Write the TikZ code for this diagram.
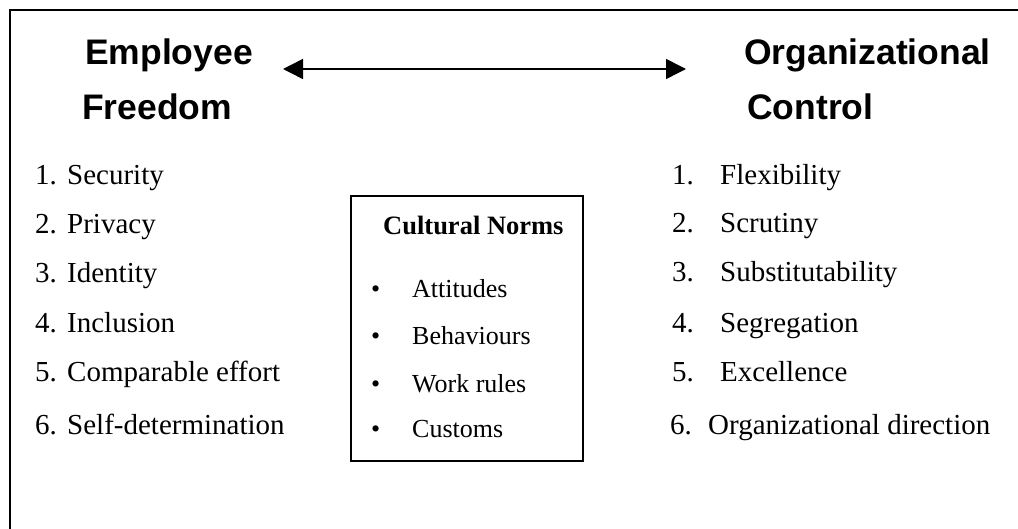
\documentclass[tikz,border=0pt]{standalone}
\usepackage{fontspec}
\setmainfont{Liberation Serif}
\newfontfamily\headfont{Liberation Sans}
\usetikzlibrary{arrows.meta}

\begin{document}
\begin{tikzpicture}[x=1pt,y=-1pt,
  head/.style={font=\headfont\bfseries\fontsize{35.5}{40}\selectfont, anchor=base west, inner sep=0},
  item/.style={font=\fontsize{29}{34}\selectfont, anchor=base west, inner sep=0},
  norm/.style={font=\fontsize{26}{30}\selectfont, anchor=base west, inner sep=0},
  frameline/.style={line width=2.3pt},
  boxline/.style={draw, line width=2pt},
  bothtips/.style={{Triangle[length=20pt,width=20pt]}-{Triangle[length=20pt,width=20pt]}, line width=1.5pt},
]
\useasboundingbox (0,0) rectangle (1018,529);

% outer frame (top and left edges)
\draw[frameline] (10,529) -- (10,10) -- (1018,10);

% headings
\node[head] (empA) at (85,65) {Employee};
\node[head] (empB) at (82,120) {Freedom};
\node[head] (orgA) at (744,65) {Organizational};
\node[head] (orgB) at (747,120) {Control};

% double-headed arrow between the two poles
\coordinate (arrL) at (283,69);
\coordinate (arrR) at (686,69);
\draw[bothtips] (arrL) -- (arrR);

% employee freedom list
\foreach \n/\t/\y in {1/Security/185, 2/Privacy/234, 3/Identity/283,
                      4/Inclusion/333, 5/Comparable effort/382, 6/Self-determination/434}{
  \node[item] (ln\n) at (35,\y) {\n.};
  \node[item] (lt\n) at (67,\y) {\t};
}

% organizational control list
\foreach \n/\t/\y/\xn/\xt in {1/Flexibility/185/672/720, 2/Scrutiny/233/672/720,
                              3/Substitutability/282/672/720, 4/Segregation/333/672/720,
                              5/Excellence/382/672/720, 6/Organizational direction/435/670/708}{
  \node[item] (rn\n) at (\xn,\y) {\n.};
  \node[item] (rt\n) at (\xt,\y) {\t};
}

% cultural norms box
\node[boxline, minimum width=232pt, minimum height=265pt, anchor=north west, inner sep=0] (normbox) at (350,195) {};
\node[font=\bfseries\fontsize{26.5}{30}\selectfont, anchor=base west, inner sep=0] (normtitle) at (383,235) {Cultural Norms};
\foreach \i/\t/\y in {1/Attitudes/298, 2/Behaviours/345, 3/Work rules/392, 4/Customs/437}{
  \node[norm] (nb\i) at (371,\y) {•};
  \node[norm] (nt\i) at (412,\y) {\t};
}
\end{tikzpicture}
\end{document}
